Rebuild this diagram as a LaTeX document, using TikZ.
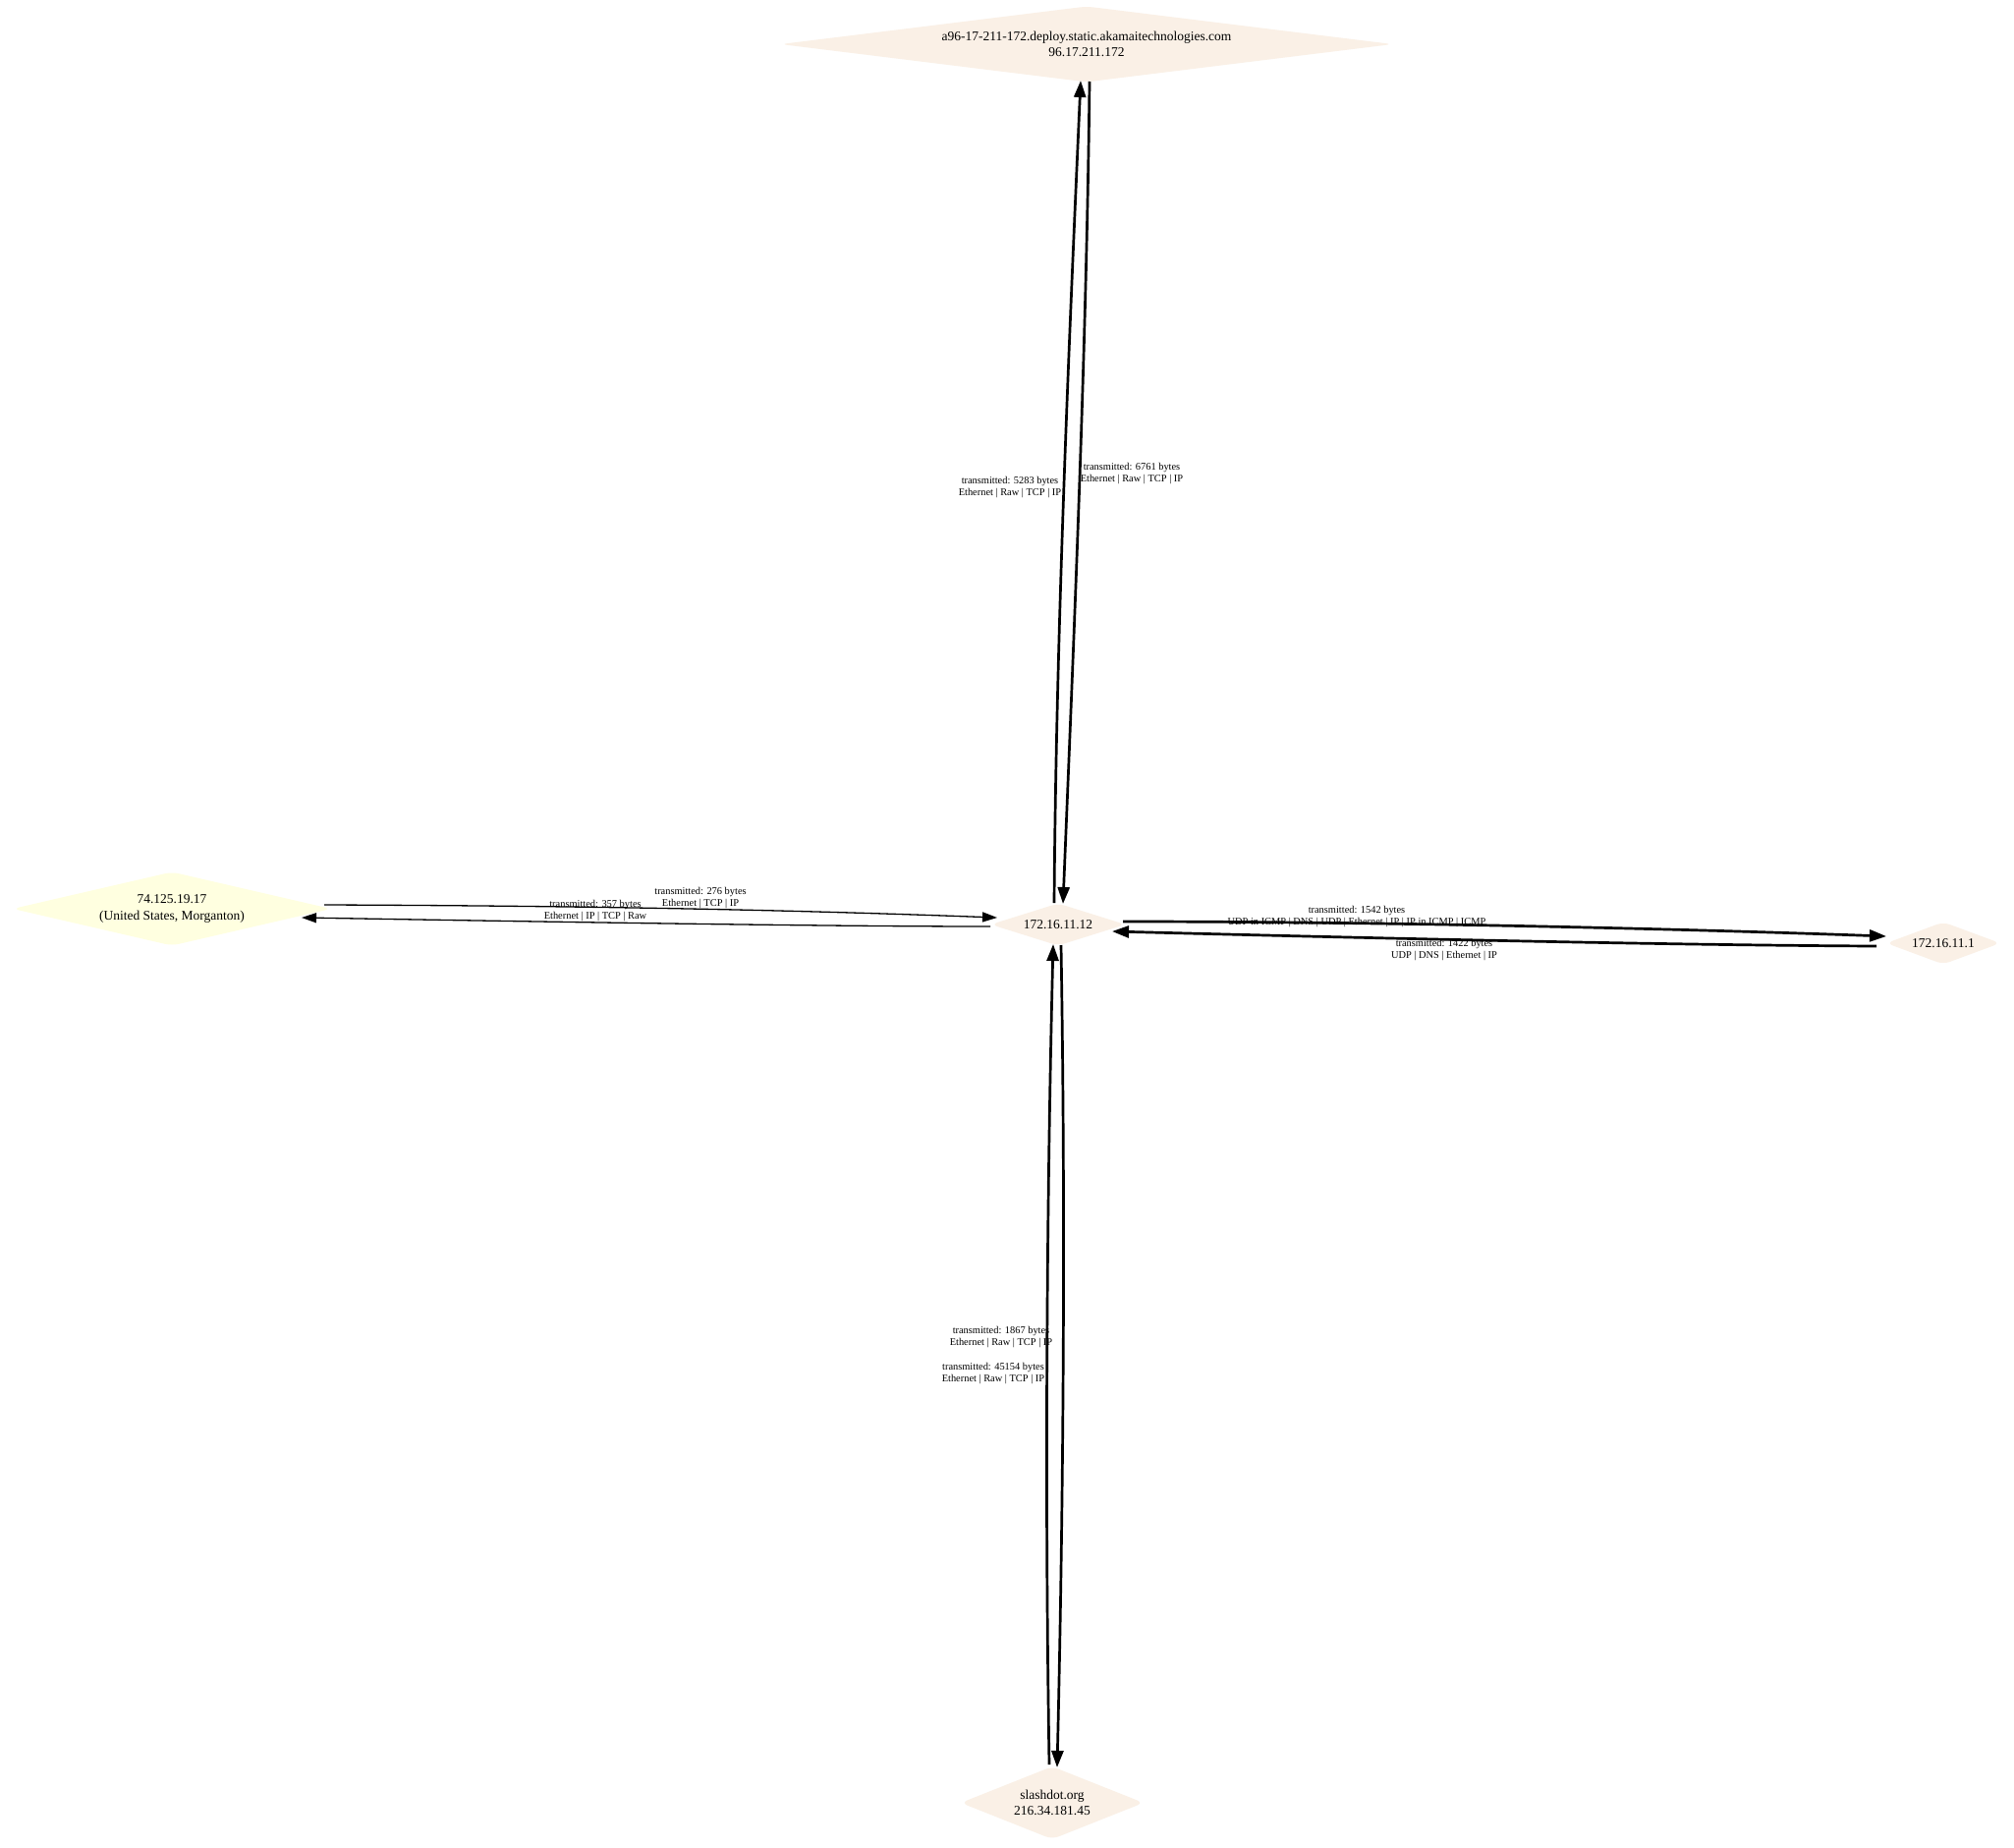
\documentclass[tikz,border=0pt]{standalone}
\usepackage{fontspec}
\setmainfont{Liberation Serif}
\usetikzlibrary{shapes.geometric,arrows.meta}
\definecolor{linen}{HTML}{FAF0E6}
\definecolor{lyellow}{HTML}{FFFFE0}
\tikzset{
  host/.style={diamond, fill=linen, draw=none, inner sep=0pt, rounded corners=7pt,
    align=center, font=\fontsize{13.5}{16.5}\selectfont},
  thickedge/.style={line width=2.7pt, -{Triangle[length=17pt,width=12pt]}},
  thinedge/.style={line width=1.3pt, -{Triangle[length=15pt,width=10pt]}},
  elab/.style={inner sep=0pt, align=center, font=\fontsize{10.4}{12.5}\selectfont}
}
\begin{document}
\begin{tikzpicture}[x=1pt,y=-1pt]
\useasboundingbox (0,0) rectangle (2050,1881);
\fill[white] (0,0) rectangle (2050,1881);

\node[host, minimum width=623pt, minimum height=77pt, shape aspect=8.1] (top) at (1106,45)
  {a96-17-211-172.deploy.static.akamaitechnologies.com\\96.17.211.172};
\node[host, minimum width=137pt, minimum height=43pt, shape aspect=3.19] (c) at (1077,941) {172.16.11.12};
\node[host, fill=lyellow, minimum width=324pt, minimum height=75pt, shape aspect=4.32] (l) at (175,925)
  {74.125.19.17\\(United States, Morganton)};
\node[host, minimum width=116pt, minimum height=43pt, shape aspect=2.7] (r) at (1978,960) {172.16.11.1};
\node[host, minimum width=186pt, minimum height=74pt, shape aspect=2.5] (b) at (1071,1835)
  {slashdot.org\\216.34.181.45};

% top pair
\draw[thickedge] ([shift={(-4,-22)}]c.center) .. controls (1075,650) and (1088,350) .. ([shift={(-6,37)}]top.center);
\draw[thickedge] ([shift={(3,38)}]top.center) .. controls (1106,350) and (1093,650) .. ([shift={(5,-21)}]c.center);
% bottom pair
\draw[thickedge] ([shift={(-3,-39)}]b.center) .. controls (1063,1500) and (1066,1200) .. ([shift={(-5,20)}]c.center);
\draw[thickedge] ([shift={(3,21)}]c.center) .. controls (1085,1250) and (1082,1550) .. ([shift={(5,-36)}]b.center);
% left pair
\draw[thinedge] ([shift={(155,-4)}]l.center) .. controls (600,922) and (800,926) .. ([shift={(-62,-7)}]c.center);
\draw[thinedge] ([shift={(-69,2)}]c.center) .. controls (850,943) and (600,939) .. ([shift={(132,9)}]l.center);
% right pair
\draw[thickedge] ([shift={(66,-3)}]c.center) .. controls (1400,938) and (1700,945) .. ([shift={(-58,-7)}]r.center);
\draw[thickedge] ([shift={(-68,3)}]r.center) .. controls (1700,962) and (1400,955) .. ([shift={(55,7)}]c.center);

% labels
\node[elab] (t1) at (1028,496) {transmitted: 5283 bytes\\Ethernet | Raw | TCP | IP};
\node[elab] (t2) at (1152,482) {transmitted: 6761 bytes\\Ethernet | Raw | TCP | IP};
\node[elab] (l1) at (713,914) {transmitted: 276 bytes\\Ethernet | TCP | IP};
\node[elab] (l2) at (606,927) {transmitted: 357 bytes\\Ethernet | IP | TCP | Raw};
\node[elab] (r1) at (1381,933) {transmitted: 1542 bytes\\UDP in ICMP | DNS | UDP | Ethernet | IP | IP in ICMP | ICMP};
\node[elab] (r2) at (1470,967) {transmitted: 1422 bytes\\UDP | DNS | Ethernet | IP};
\node[elab] (b1) at (1019,1361) {transmitted: 1867 bytes\\Ethernet | Raw | TCP | IP};
\node[elab] (b2) at (1011,1398) {transmitted: 45154 bytes\\Ethernet | Raw | TCP | IP};
\end{tikzpicture}
\end{document}
